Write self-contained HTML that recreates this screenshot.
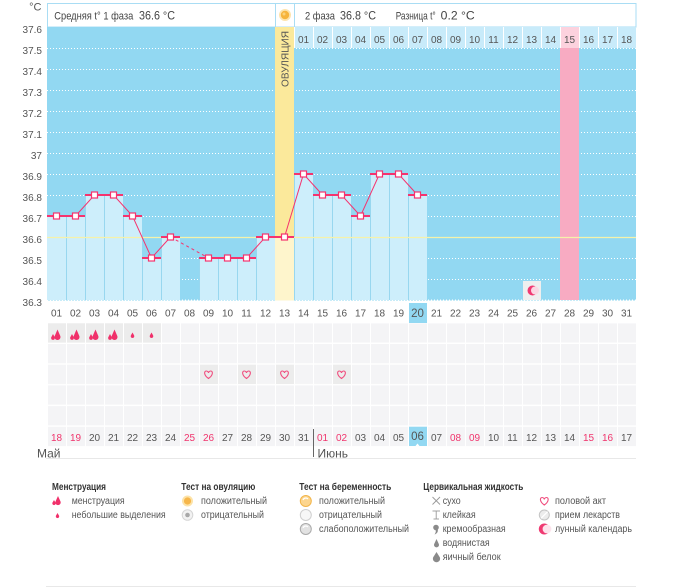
<!DOCTYPE html>
<html><head><meta charset="utf-8"><style>
html,body{margin:0;padding:0;background:#fff;width:675px;height:587px;overflow:hidden}
svg{display:block;font-family:"Liberation Sans","DejaVu Sans",sans-serif}
</style></head><body>
<svg width="675" height="587" viewBox="0 0 675 587" xmlns="http://www.w3.org/2000/svg">
<defs>
<pattern id="cells" x="47" y="323.3" width="19" height="20.7" patternUnits="userSpaceOnUse">
<rect x="1" y="0" width="18" height="19.3" fill="#f4f4f6"/>
</pattern>
<pattern id="hcells" x="294" y="27" width="19" height="21" patternUnits="userSpaceOnUse">
<rect x="1" y="0" width="18" height="21" fill="#c8ebfa"/>
</pattern>
</defs>

<!-- header box -->
<rect x="47.5" y="3.5" width="588.5" height="23.5" fill="#fff" stroke="#a9ddf4"/>
<line x1="275.5" y1="3.5" x2="275.5" y2="27" stroke="#a9ddf4"/>
<line x1="294.5" y1="3.5" x2="294.5" y2="27" stroke="#a9ddf4"/>
<circle cx="285" cy="15" r="6" fill="#fde4ad"/>
<circle cx="285" cy="15" r="4.2" fill="#f6b43c"/>
<circle cx="284" cy="14" r="1.5" fill="#fbd27a"/>
<g font-size="11" fill="#444">
<text x="54.3" y="19.3" textLength="79" lengthAdjust="spacingAndGlyphs">Средняя t° 1 фаза</text>
<text x="139" y="19.3" font-size="12" textLength="36" lengthAdjust="spacingAndGlyphs">36.6 °C</text>
<text x="305" y="19.3" textLength="30" lengthAdjust="spacingAndGlyphs">2 фаза</text>
<text x="340" y="19.3" font-size="12" textLength="36" lengthAdjust="spacingAndGlyphs">36.8 °C</text>
<text x="395.7" y="19.3" textLength="40" lengthAdjust="spacingAndGlyphs">Разница t°</text>
<text x="440.7" y="19.3" font-size="12" textLength="34" lengthAdjust="spacingAndGlyphs">0.2 °C</text>
</g>

<!-- plot background -->
<rect x="47" y="27" width="589" height="273.5" fill="#92d8f2"/>
<!-- gridlines -->
<g stroke="#fff" stroke-width="1" stroke-dasharray="1 2">
<line x1="47" y1="48.5" x2="636" y2="48.5"/>
<line x1="47" y1="69.5" x2="636" y2="69.5"/>
<line x1="47" y1="90.5" x2="636" y2="90.5"/>
<line x1="47" y1="111.5" x2="636" y2="111.5"/>
<line x1="47" y1="132.5" x2="636" y2="132.5"/>
<line x1="47" y1="153.5" x2="636" y2="153.5"/>
<line x1="47" y1="174.5" x2="636" y2="174.5"/>
<line x1="47" y1="195.5" x2="636" y2="195.5"/>
<line x1="47" y1="216.5" x2="636" y2="216.5"/>
<line x1="47" y1="258.5" x2="636" y2="258.5"/>
<line x1="47" y1="279.5" x2="636" y2="279.5"/>
<line x1="47" y1="300" x2="636" y2="300"/>
</g>
<!-- pink column day 28 -->
<rect x="560" y="48" width="19" height="252" fill="#f8abc2"/>
<!-- ovulation column -->
<rect x="275" y="27" width="19" height="273.5" fill="#fbe99b"/>

<!-- header row 2 -->
<rect x="294" y="27" width="342" height="21" fill="#fff"/>
<rect x="294" y="27" width="342" height="21" fill="url(#hcells)"/>
<rect x="561" y="27" width="18" height="21" fill="#fcd2de"/>
<g font-size="10" fill="#555" text-anchor="middle">
<text x="303.5" y="43">01</text><text x="322.5" y="43">02</text><text x="341.5" y="43">03</text>
<text x="360.5" y="43">04</text><text x="379.5" y="43">05</text><text x="398.5" y="43">06</text>
<text x="417.5" y="43">07</text><text x="436.5" y="43">08</text><text x="455.5" y="43">09</text>
<text x="474.5" y="43">10</text><text x="493.5" y="43">11</text><text x="512.5" y="43">12</text>
<text x="531.5" y="43">13</text><text x="550.5" y="43">14</text><text x="569.5" y="43">15</text>
<text x="588.5" y="43">16</text><text x="607.5" y="43">17</text><text x="626.5" y="43">18</text>
</g>

<!-- bars -->
<g fill="#cdeefb">
<rect x="47" y="216" width="19" height="84"/>
<rect x="66" y="216" width="19" height="84"/>
<rect x="85" y="195" width="19" height="105"/>
<rect x="104" y="195" width="19" height="105"/>
<rect x="123" y="216" width="19" height="84"/>
<rect x="142" y="258" width="19" height="42"/>
<rect x="161" y="237" width="19" height="63"/>
<rect x="199" y="258" width="19" height="42"/>
<rect x="218" y="258" width="19" height="42"/>
<rect x="237" y="258" width="19" height="42"/>
<rect x="256" y="237" width="19" height="63"/>
<rect x="294" y="174" width="19" height="126"/>
<rect x="313" y="195" width="19" height="105"/>
<rect x="332" y="195" width="19" height="105"/>
<rect x="351" y="216" width="19" height="84"/>
<rect x="370" y="174" width="19" height="126"/>
<rect x="389" y="174" width="19" height="126"/>
<rect x="408" y="195" width="19" height="105"/>
</g>
<rect x="275" y="237" width="19" height="63.5" fill="#fef5cc"/>
<!-- bar separators -->
<g fill="#98d7ef">
<rect x="66" y="216" width="1" height="84"/>
<rect x="85" y="195" width="1" height="105"/>
<rect x="104" y="195" width="1" height="105"/>
<rect x="123" y="216" width="1" height="84"/>
<rect x="142" y="258" width="1" height="42"/>
<rect x="161" y="237" width="1" height="63"/>
<rect x="199" y="258" width="1" height="42"/>
<rect x="218" y="258" width="1" height="42"/>
<rect x="237" y="258" width="1" height="42"/>
<rect x="256" y="237" width="1" height="63"/>
<rect x="294" y="174" width="1" height="126"/>
<rect x="313" y="195" width="1" height="105"/>
<rect x="332" y="195" width="1" height="105"/>
<rect x="351" y="216" width="1" height="84"/>
<rect x="370" y="174" width="1" height="126"/>
<rect x="389" y="174" width="1" height="126"/>
<rect x="408" y="195" width="1" height="105"/>
</g>
<!-- average line 36.6 -->
<line x1="47" y1="237.5" x2="636" y2="237.5" stroke="#f6f2aa" stroke-width="1.2"/>

<!-- moon cell day 26 -->
<rect x="523" y="281" width="18" height="19" fill="#efefef"/>
<circle cx="532.5" cy="290.5" r="5" fill="#ef3a72"/>
<circle cx="535" cy="290.5" r="4" fill="#fbd7e3"/>

<!-- red top lines -->
<g fill="#f5336e">
<rect x="47" y="215" width="38" height="2"/>
<rect x="85" y="194" width="38" height="2"/>
<rect x="123" y="215" width="19" height="2"/>
<rect x="142" y="257" width="19" height="2"/>
<rect x="161" y="236" width="19" height="2"/>
<rect x="199" y="257" width="57" height="2"/>
<rect x="256" y="236" width="38" height="2"/>
<rect x="294" y="173" width="19" height="2"/>
<rect x="313" y="194" width="38" height="2"/>
<rect x="351" y="215" width="19" height="2"/>
<rect x="370" y="173" width="38" height="2"/>
<rect x="408" y="194" width="19" height="2"/>
</g>
<!-- connecting lines -->
<polyline points="56.5,216 75.5,216 94.5,195 113.5,195 132.5,216 151.5,258 170.5,237" fill="none" stroke="#f5336e" stroke-width="1"/>
<line x1="170.5" y1="237" x2="208.5" y2="258" stroke="#f5336e" stroke-width="1" stroke-dasharray="3 3"/>
<polyline points="208.5,258 227.5,258 246.5,258 265.5,237 284.5,237 303.5,174 322.5,195 341.5,195 360.5,216 379.5,174 398.5,174 417.5,195" fill="none" stroke="#f5336e" stroke-width="1"/>
<!-- markers -->
<g fill="#fff" stroke="#f5336e" stroke-width="1.2">
<rect x="53.5" y="213" width="6" height="6"/><rect x="72.5" y="213" width="6" height="6"/>
<rect x="91.5" y="192" width="6" height="6"/><rect x="110.5" y="192" width="6" height="6"/>
<rect x="129.5" y="213" width="6" height="6"/><rect x="148.5" y="255" width="6" height="6"/>
<rect x="167.5" y="234" width="6" height="6"/><rect x="205.5" y="255" width="6" height="6"/>
<rect x="224.5" y="255" width="6" height="6"/><rect x="243.5" y="255" width="6" height="6"/>
<rect x="262.5" y="234" width="6" height="6"/><rect x="281.5" y="234" width="6" height="6"/>
<rect x="300.5" y="171" width="6" height="6"/><rect x="319.5" y="192" width="6" height="6"/>
<rect x="338.5" y="192" width="6" height="6"/><rect x="357.5" y="213" width="6" height="6"/>
<rect x="376.5" y="171" width="6" height="6"/><rect x="395.5" y="171" width="6" height="6"/>
<rect x="414.5" y="192" width="6" height="6"/>
</g>

<!-- ovulation text -->
<text transform="translate(288.5,59) rotate(-90)" font-size="10" fill="#555" text-anchor="middle" textLength="56" lengthAdjust="spacingAndGlyphs">ОВУЛЯЦИЯ</text>

<!-- Y axis -->
<text x="41.5" y="10.5" font-size="11" fill="#555" text-anchor="end">°C</text>
<g font-size="10" fill="#555" text-anchor="end">
<text x="42" y="33">37.6</text><text x="42" y="54">37.5</text><text x="42" y="75">37.4</text>
<text x="42" y="96">37.3</text><text x="42" y="117">37.2</text><text x="42" y="138">37.1</text>
<text x="42" y="159">37</text><text x="42" y="180">36.9</text><text x="42" y="201">36.8</text>
<text x="42" y="222">36.7</text><text x="42" y="243">36.6</text><text x="42" y="264">36.5</text>
<text x="42" y="285">36.4</text><text x="42" y="306">36.3</text>
</g>

<!-- day row -->
<rect x="409" y="303" width="18" height="20" fill="#92d8f2"/>
<g font-size="10" fill="#555" text-anchor="middle">
<text x="56.5" y="316.3">01</text><text x="75.5" y="316.3">02</text><text x="94.5" y="316.3">03</text>
<text x="113.5" y="316.3">04</text><text x="132.5" y="316.3">05</text><text x="151.5" y="316.3">06</text>
<text x="170.5" y="316.3">07</text><text x="189.5" y="316.3">08</text><text x="208.5" y="316.3">09</text>
<text x="227.5" y="316.3">10</text><text x="246.5" y="316.3">11</text><text x="265.5" y="316.3">12</text>
<text x="284.5" y="316.3">13</text><text x="303.5" y="316.3">14</text><text x="322.5" y="316.3">15</text>
<text x="341.5" y="316.3">16</text><text x="360.5" y="316.3">17</text><text x="379.5" y="316.3">18</text>
<text x="398.5" y="316.3">19</text><text x="417.5" y="316.8" font-size="11.5">20</text><text x="436.5" y="316.3">21</text>
<text x="455.5" y="316.3">22</text><text x="474.5" y="316.3">23</text><text x="493.5" y="316.3">24</text>
<text x="512.5" y="316.3">25</text><text x="531.5" y="316.3">26</text><text x="550.5" y="316.3">27</text>
<text x="569.5" y="316.3">28</text><text x="588.5" y="316.3">29</text><text x="607.5" y="316.3">30</text>
<text x="626.5" y="316.3">31</text>
</g>

<!-- icon rows -->
<rect x="47" y="323.3" width="589" height="124" fill="url(#cells)"/>
<g fill="#ececec">
<rect x="48" y="323.3" width="18" height="19.3"/><rect x="67" y="323.3" width="18" height="19.3"/>
<rect x="86" y="323.3" width="18" height="19.3"/><rect x="105" y="323.3" width="18" height="19.3"/>
<rect x="124" y="323.3" width="18" height="19.3"/><rect x="143" y="323.3" width="18" height="19.3"/>
<rect x="200" y="364.7" width="18" height="19.3"/><rect x="238" y="364.7" width="18" height="19.3"/>
<rect x="276" y="364.7" width="18" height="19.3"/><rect x="333" y="364.7" width="18" height="19.3"/>
</g>
<!-- menstruation icons -->
<g fill="#f0306a">
<g transform="translate(57.5,340)"><path d="M0,-10.5 L2.7,-4.3 A3,3 0 1 1 -2.7,-4.3 Z"/><path d="M-4.5,-6 L-2.7,-2.6 A1.9,1.9 0 1 1 -6.3,-2.6 Z"/></g>
<g transform="translate(76.5,340)"><path d="M0,-10.5 L2.7,-4.3 A3,3 0 1 1 -2.7,-4.3 Z"/><path d="M-4.5,-6 L-2.7,-2.6 A1.9,1.9 0 1 1 -6.3,-2.6 Z"/></g>
<g transform="translate(95.5,340)"><path d="M0,-10.5 L2.7,-4.3 A3,3 0 1 1 -2.7,-4.3 Z"/><path d="M-4.5,-6 L-2.7,-2.6 A1.9,1.9 0 1 1 -6.3,-2.6 Z"/></g>
<g transform="translate(114.5,340)"><path d="M0,-10.5 L2.7,-4.3 A3,3 0 1 1 -2.7,-4.3 Z"/><path d="M-4.5,-6 L-2.7,-2.6 A1.9,1.9 0 1 1 -6.3,-2.6 Z"/></g>
<path transform="translate(132.5,338)" d="M0,-5.5 L1.6,-2.6 A1.8,1.8 0 1 1 -1.6,-2.6 Z"/>
<path transform="translate(151.5,338)" d="M0,-5.5 L1.6,-2.6 A1.8,1.8 0 1 1 -1.6,-2.6 Z"/>
</g>
<!-- hearts -->
<g fill="none" stroke="#f04d7e" stroke-width="1.1">
<path transform="translate(208.5,375)" d="M0,3.5 C-5,0 -4.5,-4 -2.2,-4 C-1,-4 0,-3 0,-2 C0,-3 1,-4 2.2,-4 C4.5,-4 5,0 0,3.5 Z"/>
<path transform="translate(246.5,375)" d="M0,3.5 C-5,0 -4.5,-4 -2.2,-4 C-1,-4 0,-3 0,-2 C0,-3 1,-4 2.2,-4 C4.5,-4 5,0 0,3.5 Z"/>
<path transform="translate(284.5,375)" d="M0,3.5 C-5,0 -4.5,-4 -2.2,-4 C-1,-4 0,-3 0,-2 C0,-3 1,-4 2.2,-4 C4.5,-4 5,0 0,3.5 Z"/>
<path transform="translate(341.5,375)" d="M0,3.5 C-5,0 -4.5,-4 -2.2,-4 C-1,-4 0,-3 0,-2 C0,-3 1,-4 2.2,-4 C4.5,-4 5,0 0,3.5 Z"/>
</g>

<!-- date row -->
<rect x="409" y="426.7" width="18" height="19.3" fill="#92d8f2"/>
<path d="M415.5,446 L417.5,443.5 L419.5,446 Z" fill="#fff"/>
<g font-size="10" text-anchor="middle" fill="#555">
<text x="56.5" y="441" fill="#f0346c">18</text><text x="75.5" y="441" fill="#f0346c">19</text>
<text x="94.5" y="441">20</text><text x="113.5" y="441">21</text><text x="132.5" y="441">22</text>
<text x="151.5" y="441">23</text><text x="170.5" y="441">24</text>
<text x="189.5" y="441" fill="#f0346c">25</text><text x="208.5" y="441" fill="#f0346c">26</text>
<text x="227.5" y="441">27</text><text x="246.5" y="441">28</text><text x="265.5" y="441">29</text>
<text x="284.5" y="441">30</text><text x="303.5" y="441">31</text>
<text x="322.5" y="441" fill="#f0346c">01</text><text x="341.5" y="441" fill="#f0346c">02</text>
<text x="360.5" y="441">03</text><text x="379.5" y="441">04</text><text x="398.5" y="441">05</text>
<text x="417.5" y="440" font-size="11.5">06</text><text x="436.5" y="441">07</text>
<text x="455.5" y="441" fill="#f0346c">08</text><text x="474.5" y="441" fill="#f0346c">09</text>
<text x="493.5" y="441">10</text><text x="512.5" y="441">11</text><text x="531.5" y="441">12</text>
<text x="550.5" y="441">13</text><text x="569.5" y="441">14</text>
<text x="588.5" y="441" fill="#f0346c">15</text><text x="607.5" y="441" fill="#f0346c">16</text>
<text x="626.5" y="441">17</text>
</g>
<line x1="313.5" y1="429" x2="313.5" y2="457" stroke="#666"/>
<text x="37" y="457.5" font-size="12" fill="#555">Май</text>
<text x="317.5" y="457.5" font-size="12" fill="#555">Июнь</text>
<line x1="46" y1="458.5" x2="636" y2="458.5" stroke="#e8e8e8"/>

<!-- legend -->
<g font-size="10" font-weight="bold" fill="#333">
<text x="52" y="490" textLength="54" lengthAdjust="spacingAndGlyphs">Менструация</text>
<text x="181.3" y="490" textLength="74" lengthAdjust="spacingAndGlyphs">Тест на овуляцию</text>
<text x="299.3" y="490" textLength="92" lengthAdjust="spacingAndGlyphs">Тест на беременность</text>
<text x="423.3" y="490" textLength="100" lengthAdjust="spacingAndGlyphs">Цервикальная жидкость</text>
</g>
<g font-size="10" fill="#555">
<text x="71.7" y="504" textLength="53" lengthAdjust="spacingAndGlyphs">менструация</text>
<text x="71.7" y="518" textLength="94" lengthAdjust="spacingAndGlyphs">небольшие выделения</text>
<text x="201" y="504" textLength="66" lengthAdjust="spacingAndGlyphs">положительный</text>
<text x="201" y="518" textLength="63" lengthAdjust="spacingAndGlyphs">отрицательный</text>
<text x="319" y="504" textLength="66" lengthAdjust="spacingAndGlyphs">положительный</text>
<text x="319" y="518" textLength="63" lengthAdjust="spacingAndGlyphs">отрицательный</text>
<text x="319" y="532" textLength="90" lengthAdjust="spacingAndGlyphs">слабоположительный</text>
<text x="442.7" y="504" textLength="18" lengthAdjust="spacingAndGlyphs">сухо</text>
<text x="442.7" y="518" textLength="33" lengthAdjust="spacingAndGlyphs">клейкая</text>
<text x="442.7" y="532" textLength="63" lengthAdjust="spacingAndGlyphs">кремообразная</text>
<text x="442.7" y="546" textLength="47" lengthAdjust="spacingAndGlyphs">водянистая</text>
<text x="442.7" y="560" textLength="58" lengthAdjust="spacingAndGlyphs">яичный белок</text>
<text x="555" y="504" textLength="51" lengthAdjust="spacingAndGlyphs">половой акт</text>
<text x="555" y="518" textLength="65" lengthAdjust="spacingAndGlyphs">прием лекарств</text>
<text x="555" y="532" textLength="77" lengthAdjust="spacingAndGlyphs">лунный календарь</text>
</g>
<!-- legend icons -->
<g fill="#f0306a">
<g transform="translate(58,505)"><path d="M0,-9 L2.4,-3.8 A2.7,2.7 0 1 1 -2.4,-3.8 Z"/><path d="M-4,-5 L-2.4,-2.2 A1.7,1.7 0 1 1 -5.6,-2.2 Z"/></g>
<path transform="translate(57.5,518)" d="M0,-5 L1.5,-2.4 A1.7,1.7 0 1 1 -1.5,-2.4 Z"/>
</g>
<circle cx="187.5" cy="501" r="5.5" fill="#fde3a8"/>
<circle cx="187.5" cy="501" r="3.6" fill="#f6b64a"/>
<circle cx="187.5" cy="515" r="5.3" fill="#f2f2f2" stroke="#d5d5d5"/>
<circle cx="187.5" cy="515" r="2.3" fill="#a8a8a8"/>
<circle cx="305.8" cy="501" r="5.5" fill="#fcd58e" stroke="#f2b54a"/>
<path d="M303,500 A3,3 0 0 1 308,499" fill="none" stroke="#fff" stroke-width="1.2"/>
<circle cx="305.8" cy="515" r="5.5" fill="#f7f7f7" stroke="#cfcfcf"/>
<circle cx="305.8" cy="529" r="5.5" fill="#e2e2e2" stroke="#aaa"/>
<path d="M303,528 A3,3 0 0 1 308,527" fill="none" stroke="#fff" stroke-width="1.2"/>
<g stroke="#999" stroke-width="0.9" fill="none">
<line x1="432.5" y1="497" x2="440" y2="504.5"/><line x1="440" y1="497" x2="432.5" y2="504.5"/>
<line x1="432.5" y1="511" x2="440" y2="511"/><line x1="436.2" y1="511" x2="436.2" y2="519"/><line x1="433.5" y1="519" x2="439" y2="519"/>
</g>
<g fill="#8a8a8a">
<circle cx="436" cy="527.5" r="2.8"/>
<path d="M437.5,529 C438.5,531 437.5,533.5 434.5,534.5 C436,532.5 436,531 435.5,529.5 Z"/>
<path transform="translate(436.5,547)" d="M0,-8 L2.2,-3.3 A2.5,2.5 0 1 1 -2.2,-3.3 Z"/>
<path transform="translate(436.5,562)" d="M0,-10 L3.3,-4.8 A3.6,3.6 0 1 1 -3.3,-4.8 Z"/>
</g>
<path transform="translate(544.3,501.5)" d="M0,3.5 C-5,0 -4.5,-4 -2.2,-4 C-1,-4 0,-3 0,-2 C0,-3 1,-4 2.2,-4 C4.5,-4 5,0 0,3.5 Z" fill="none" stroke="#f04d7e" stroke-width="1.1"/>
<circle cx="544.3" cy="515" r="5" fill="#ececec" stroke="#c4c4c4"/>
<line x1="541" y1="518.3" x2="547.6" y2="511.7" stroke="#fff" stroke-width="1.3"/>
<circle cx="544.3" cy="529" r="5.5" fill="#ef3a72"/>
<circle cx="547" cy="529" r="4.4" fill="#fde3ec"/>

<line x1="46" y1="586.5" x2="636" y2="586.5" stroke="#e8e8e8"/>
</svg>
</body></html>
